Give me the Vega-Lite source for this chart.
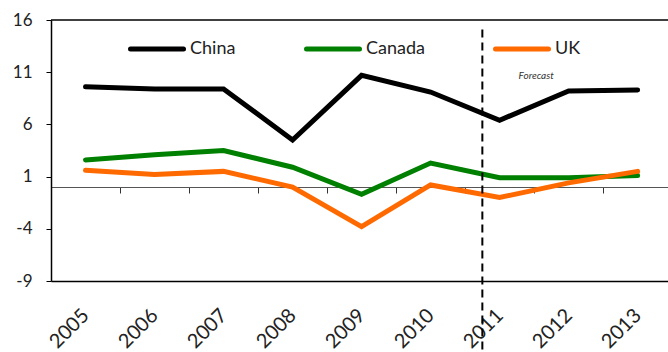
{
  "$schema": "https://vega.github.io/schema/vega-lite/v6.json",
  "width": 617,
  "height": 261,
  "autosize": {"type": "none"},
  "padding": {"left": 51, "top": 20, "right": 0, "bottom": 71},
  "background": "white",
  "config": {"view": {"stroke": null}, "font": "Lato"},
  "datasets": {
    "growth": [
      {"year": 2005, "country": "China", "value": 9.6},
      {"year": 2006, "country": "China", "value": 9.4},
      {"year": 2007, "country": "China", "value": 9.4},
      {"year": 2008, "country": "China", "value": 4.5},
      {"year": 2009, "country": "China", "value": 10.7},
      {"year": 2010, "country": "China", "value": 9.1},
      {"year": 2011, "country": "China", "value": 6.4},
      {"year": 2012, "country": "China", "value": 9.2},
      {"year": 2013, "country": "China", "value": 9.3},
      {"year": 2005, "country": "Canada", "value": 2.6},
      {"year": 2006, "country": "Canada", "value": 3.1},
      {"year": 2007, "country": "Canada", "value": 3.5},
      {"year": 2008, "country": "Canada", "value": 1.9},
      {"year": 2009, "country": "Canada", "value": -0.7},
      {"year": 2010, "country": "Canada", "value": 2.3},
      {"year": 2011, "country": "Canada", "value": 0.9},
      {"year": 2012, "country": "Canada", "value": 0.9},
      {"year": 2013, "country": "Canada", "value": 1.1},
      {"year": 2005, "country": "UK", "value": 1.6},
      {"year": 2006, "country": "UK", "value": 1.2},
      {"year": 2007, "country": "UK", "value": 1.5},
      {"year": 2008, "country": "UK", "value": 0.0},
      {"year": 2009, "country": "UK", "value": -3.8},
      {"year": 2010, "country": "UK", "value": 0.2},
      {"year": 2011, "country": "UK", "value": -1.0},
      {"year": 2012, "country": "UK", "value": 0.4},
      {"year": 2013, "country": "UK", "value": 1.5}
    ]
  },
  "resolve": {"axis": {"x": "independent"}},
  "layer": [
    {
      "data": {"name": "growth"},
      "mark": {"type": "line", "strokeWidth": 5, "strokeCap": "round", "strokeJoin": "miter"},
      "encoding": {
        "x": {
          "field": "year",
          "type": "quantitative",
          "scale": {"domain": [2004.5, 2013.44], "nice": false, "zero": false},
          "axis": {
            "orient": "bottom",
            "values": [2005, 2006, 2007, 2008, 2009, 2010, 2011, 2012, 2013],
            "format": "d",
            "labelAngle": -45,
            "labelAlign": "right",
            "labelBaseline": "middle",
            "labelPadding": 31,
            "labelFontSize": 20,
            "labelColor": "#222222",
            "labelFlush": false,
            "labelOverlap": false,
            "ticks": false,
            "grid": false,
            "title": null,
            "domainColor": "#000000",
            "domainWidth": 1.5
          }
        },
        "y": {
          "field": "value",
          "type": "quantitative",
          "scale": {"domain": [-9, 16], "nice": false, "zero": false},
          "axis": {
            "values": [-9, -4, 1, 6, 11, 16],
            "labelExpr": "replace(datum.label, '\u2212', '-')",
            "grid": false,
            "title": null,
            "labelFontSize": 17,
            "labelColor": "#222222",
            "labelPadding": 14,
            "labelFlush": false,
            "tickSize": 5,
            "tickColor": "#000000",
            "domainColor": "#000000",
            "domainWidth": 1.5
          }
        },
        "color": {
          "field": "country",
          "type": "nominal",
          "scale": {"domain": ["China", "Canada", "UK"], "range": ["#000000", "#008000", "#ff6a00"]},
          "legend": {
            "orient": "none",
            "legendX": 77,
            "legendY": 0,
            "direction": "horizontal",
            "columns": 3,
            "title": null,
            "padding": 0,
            "columnPadding": 60,
            "symbolType": "stroke",
            "symbolSize": 2809,
            "symbolStrokeWidth": 5,
            "labelFontSize": 18,
            "labelColor": "#222222",
            "labelOffset": 4,
            "encode": {"symbols": {"update": {"strokeCap": {"value": "round"}}}}
          }
        }
      }
    },
    {
      "description": "Top frame line",
      "data": {"values": [{}]},
      "mark": {"type": "rule", "color": "#000000", "strokeWidth": 1.5},
      "encoding": {
        "y": {"datum": 16, "type": "quantitative"}
      }
    },
    {
      "description": "Forecast divider; its axis draws the zero line with band ticks",
      "data": {"values": [{}]},
      "mark": {"type": "rule", "color": "#000000", "strokeWidth": 2, "strokeDash": [8, 5]},
      "encoding": {
        "x": {
          "datum": 2010.75,
          "type": "quantitative",
          "axis": {
            "orient": "bottom",
            "offset": -94,
            "values": [2005.5, 2006.5, 2007.5, 2008.5, 2009.5, 2010.5, 2011.5, 2012.5],
            "labels": false,
            "grid": false,
            "title": null,
            "domainColor": "#555555",
            "domainWidth": 1,
            "tickColor": "#333333",
            "tickWidth": 1,
            "tickSize": 6
          }
        },
        "y": {"datum": 15.1, "type": "quantitative"},
        "y2": {"datum": -16}
      }
    },
    {
      "description": "Forecast label",
      "data": {"values": [{}]},
      "mark": {"type": "text", "text": "Forecast", "fontStyle": "italic", "fontSize": 10, "color": "#333333", "align": "center", "baseline": "middle"},
      "encoding": {
        "x": {"datum": 2011.53, "type": "quantitative", "axis": null},
        "y": {"datum": 10.6, "type": "quantitative"}
      }
    }
  ]
}
